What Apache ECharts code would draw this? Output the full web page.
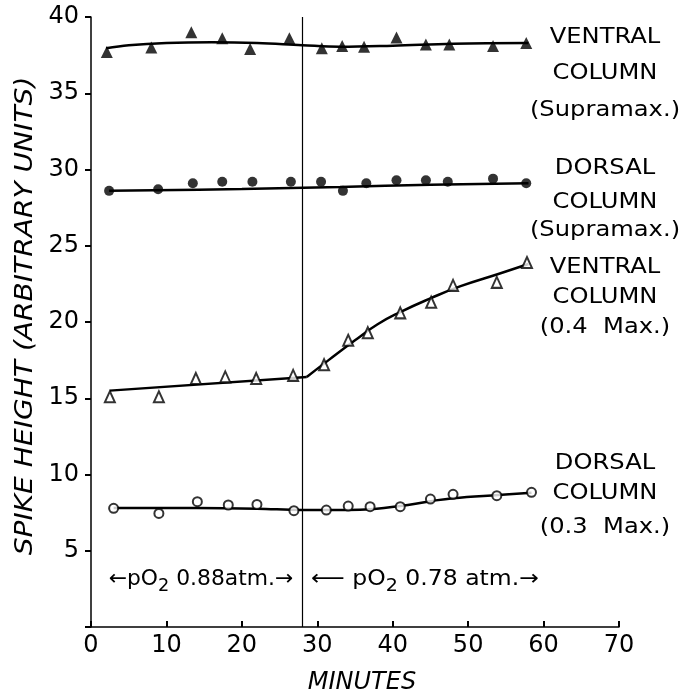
<!DOCTYPE html>
<html>
<head>
<meta charset="utf-8">
<script src="https://cdn.jsdelivr.net/npm/echarts@6/dist/echarts.min.js"></script>
<style>
html,body{margin:0;padding:0;background:#fff;}
#chart{width:683px;height:694px;}
</style>
</head>
<body>
<div id="chart"></div>
<script>
// ---- data ----
var xTicks = [0, 10, 20, 30, 40, 50, 60, 70];
var yTicks = [0, 5, 10, 15, 20, 25, 30, 35, 40];

var ventralSupraX = [2.1, 8.0, 13.3, 17.4, 21.1, 26.3, 30.6, 33.3, 36.2, 40.5, 44.4, 47.5, 53.3, 57.7];
var ventralSupraY = [37.7, 38.0, 39.0, 38.6, 37.9, 38.6, 37.95, 38.1, 38.05, 38.65, 38.2, 38.2, 38.1, 38.3];

var dorsalSupraX = [2.4, 8.9, 13.5, 17.4, 21.4, 26.5, 30.5, 33.4, 36.5, 40.5, 44.4, 47.3, 53.3, 57.7];
var dorsalSupraY = [28.6, 28.7, 29.1, 29.2, 29.2, 29.2, 29.2, 28.6, 29.1, 29.3, 29.3, 29.2, 29.4, 29.1];

var ventral04X = [2.5, 9.0, 13.9, 17.8, 21.9, 26.8, 30.9, 34.1, 36.7, 41.0, 45.1, 48.0, 53.8, 57.8];
var ventral04Y = [15.1, 15.1, 16.3, 16.4, 16.3, 16.5, 17.2, 18.8, 19.3, 20.6, 21.3, 22.4, 22.6, 23.9];

var dorsal03X = [3.0, 9.0, 14.1, 18.2, 22.0, 26.9, 31.2, 34.1, 37.0, 41.0, 45.0, 48.0, 53.8, 58.4];
var dorsal03Y = [7.78, 7.45, 8.22, 8.0, 8.04, 7.63, 7.67, 7.93, 7.89, 7.89, 8.39, 8.7, 8.61, 8.83];

// fitted curves
var ventralSupraFitX = [2, 5, 10, 16, 22, 28, 33, 40, 48, 58];
var ventralSupraFitY = [37.95, 38.15, 38.3, 38.35, 38.3, 38.15, 38.05, 38.12, 38.25, 38.3];
var dorsalSupraFitX = [2.4, 20, 33, 45, 58];
var dorsalSupraFitY = [28.6, 28.72, 28.85, 29.0, 29.1];
var ventral04FitAX = [2.5, 28.6];
var ventral04FitAY = [15.5, 16.4];
var ventral04FitBX = [28.6, 31.5, 35, 38, 41, 45, 49, 54, 58];
var ventral04FitBY = [16.4, 17.5, 18.8, 19.85, 20.65, 21.55, 22.35, 23.15, 23.8];
var dorsal03FitX = [3, 14, 22, 28, 34, 37, 41, 45, 48, 54, 58.4];
var dorsal03FitY = [7.8, 7.8, 7.76, 7.68, 7.68, 7.72, 7.93, 8.25, 8.45, 8.66, 8.8];

var changeTime = 28;

var seriesLabels = [
  ['VENTRAL', 'COLUMN', '(Supramax.)'],
  ['DORSAL', 'COLUMN', '(Supramax.)'],
  ['VENTRAL', 'COLUMN', '(0.4  Max.)'],
  ['DORSAL', 'COLUMN', '(0.3  Max.)']
];
var xName = 'MINUTES';
var yName = 'SPIKE HEIGHT (ARBITRARY UNITS)';

// ---- helpers ----
function pairs(xs, ys) { return xs.map(function (x, i) { return [x, ys[i]]; }); }

var FONT = 'DejaVu Sans';
var chart = echarts.init(document.getElementById('chart'), null, {renderer: 'canvas'});

var labelLineY = [
  [37, 73, 110],
  [168, 202, 230],
  [267, 297, 327],
  [463, 493, 527]
];
var graphics = [];
seriesLabels.forEach(function (grp, gi) {
  grp.forEach(function (t, li) {
    graphics.push({
      type: 'text', x: 605, y: labelLineY[gi][li], scaleX: 1.1,
      style: {text: t, fill: '#000', font: '22px "' + FONT + '"', textAlign: 'center', textVerticalAlign: 'middle'}
    });
  });
});
// y axis title
graphics.push({
  type: 'text', x: 26, y: 316, rotation: Math.PI / 2, scaleX: 1.17,
  style: {text: yName, fill: '#000', font: 'italic 24px "' + FONT + '"', textAlign: 'center', textVerticalAlign: 'middle'}
});

var richStyles = {
  a: {fontSize: 21, fontFamily: FONT, color: '#000', lineHeight: 30, verticalAlign: 'middle'},
  s: {fontSize: 17, fontFamily: FONT, color: '#000', lineHeight: 17, verticalAlign: 'bottom'}
};

function scatter(name, data, symbol, filled, size) {
  return {
    name: name, type: 'scatter', data: data, symbol: symbol, symbolSize: size,
    itemStyle: filled ? {color: '#000'} : {color: '#fff', borderColor: '#000', borderWidth: 2},
    z: 5
  };
}
function fit(name, data, smooth) {
  return {
    name: name, type: 'line', data: data, smooth: smooth, showSymbol: false,
    symbol: 'none', lineStyle: {color: '#000', width: 2.5}, z: 3
  };
}

var option = {
  backgroundColor: '#fff',
  animation: false,
  grid: {left: 91, right: 64, top: 17, bottom: 67, outerBoundsMode: 'none', containLabel: false},
  xAxis: {
    type: 'value', min: 0, max: 70, interval: 10,
    name: xName, nameLocation: 'middle', nameGap: 44,
    nameTextStyle: {fontFamily: FONT, fontSize: 24, fontStyle: 'italic', color: '#000', padding: [0, 0, 0, 14]},
    axisLine: {lineStyle: {color: '#000', width: 1.5}},
    axisTick: {inside: true, length: 6, lineStyle: {color: '#000', width: 2}},
    axisLabel: {fontFamily: FONT, fontSize: 24, color: '#000', margin: 7,
      formatter: function (v) { return xTicks.indexOf(v) >= 0 ? String(v) : ''; }},
    splitLine: {show: false}
  },
  yAxis: {
    type: 'value', min: 0, max: 40, interval: 5,
    axisLine: {show: true, lineStyle: {color: '#000', width: 1.5}},
    axisTick: {show: true, inside: false, length: 6, lineStyle: {color: '#000', width: 2}},
    axisLabel: {fontFamily: FONT, fontSize: 24, color: '#000', margin: 12,
      formatter: function (v) { return (v === 0 || yTicks.indexOf(v) < 0) ? '' : String(v); }},
    splitLine: {show: false}
  },
  graphic: graphics.concat([
    {type: 'text', x: 201, y: 580, scaleX: 1.04, style: {rich: richStyles, text: '{a|←pO}{s|2}{a| 0.88atm.→}', textAlign: 'center', textVerticalAlign: 'middle'}},
    {type: 'text', x: 425, y: 580, scaleX: 1.12, style: {rich: richStyles, text: '{a|⟵ pO}{s|2}{a| 0.78 atm.→}', textAlign: 'center', textVerticalAlign: 'middle'}}
  ]),
  series: [
    fit('ventralSupraFit', pairs(ventralSupraFitX, ventralSupraFitY), 0.4),
    fit('dorsalSupraFit', pairs(dorsalSupraFitX, dorsalSupraFitY), 0.4),
    fit('ventral04FitA', pairs(ventral04FitAX, ventral04FitAY), false),
    fit('ventral04FitB', pairs(ventral04FitBX, ventral04FitBY), 0.5),
    fit('dorsal03Fit', pairs(dorsal03FitX, dorsal03FitY), 0.4),
    scatter('ventralSupra', pairs(ventralSupraX, ventralSupraY), 'triangle', true, [12, 12]),
    scatter('dorsalSupra', pairs(dorsalSupraX, dorsalSupraY), 'circle', true, 10),
    scatter('ventral04', pairs(ventral04X, ventral04Y), 'triangle', false, [10, 11]),
    scatter('dorsal03', pairs(dorsal03X, dorsal03Y), 'circle', false, 9),
    {
      type: 'line', data: [], markLine: {
        silent: true, symbol: 'none', label: {show: false},
        lineStyle: {color: '#000', width: 1.2, type: 'solid'},
        data: [{xAxis: changeTime}]
      }
    }
  ]
};
chart.setOption(option);
</script>
</body>
</html>
